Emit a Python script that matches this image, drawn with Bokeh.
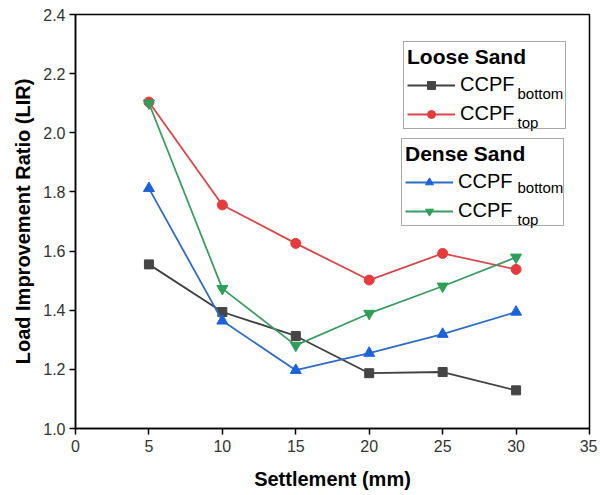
from bokeh.plotting import figure
from bokeh.models import Legend, LegendItem, Label, FixedTicker, PrintfTickFormatter, Range1d
from bokeh.embed import file_html
from bokeh.resources import INLINE

settlement = [5, 10, 15, 20, 25, 30]
loose_bottom = [1.555, 1.394, 1.313, 1.187, 1.191, 1.129]
loose_top = [2.104, 1.756, 1.626, 1.502, 1.592, 1.538]
dense_bottom = [1.812, 1.364, 1.197, 1.255, 1.319, 1.394]
dense_top = [2.100, 1.473, 1.281, 1.389, 1.481, 1.579]

x_ticks = [0, 5, 10, 15, 20, 25, 30, 35]
y_ticks = [1.0, 1.2, 1.4, 1.6, 1.8, 2.0, 2.2, 2.4]

FONT = "Liberation Sans"

p = figure(frame_width=514, frame_height=414, output_backend="svg", toolbar_location=None,
           x_range=Range1d(0, 35), y_range=Range1d(1.0, 2.4),
           min_border_left=75, min_border_top=14, min_border_right=8, min_border_bottom=62)
p.xgrid.visible = False
p.ygrid.visible = False
p.outline_line_color = "black"
p.outline_line_width = 1.5
p.outline_line_alpha = 1.0

for ax in (p.xaxis[0], p.yaxis[0]):
    ax.axis_line_color = "black"
    ax.axis_line_width = 1.5
    ax.major_tick_line_color = "black"
    ax.major_tick_line_width = 1.5
    ax.major_tick_out = 6
    ax.major_tick_in = 0
    ax.minor_tick_line_color = None
    ax.major_label_text_font = FONT
    ax.major_label_text_font_size = "16px"
    ax.major_label_text_color = "#333333"
    ax.axis_label_text_font = FONT
    ax.axis_label_text_font_size = "20px"
    ax.axis_label_text_font_style = "bold"
    ax.axis_label_text_color = "black"

p.xaxis.ticker = FixedTicker(ticks=x_ticks)
p.yaxis.ticker = FixedTicker(ticks=y_ticks)
p.yaxis.formatter = PrintfTickFormatter(format="%.1f")
p.xaxis.axis_label = "Settlement (mm)"
p.yaxis.axis_label = "Load Improvement Ratio (LIR)"
p.xaxis.axis_label_standoff = 13
p.yaxis.axis_label_standoff = 6
p.xaxis.major_label_standoff = 5
p.yaxis.major_label_standoff = 4

series = [
    (loose_bottom, "#404040", "#454545", "square", 9),
    (loose_top, "#d5474a", "#e63b3d", "circle", 10),
    (dense_bottom, "#2f6cbf", "#1c62d8", "triangle", 11),
    (dense_top, "#3f9a63", "#2e9e58", "inverted_triangle", 11),
]
renderers = []
for vals, lc, mc, marker, size in series:
    l = p.line(settlement, vals, line_color=lc, line_width=1.8)
    s = p.scatter(settlement, vals, marker=marker, size=size, fill_color=mc, line_color=mc)
    renderers.append((l, s))

def make_legend(title, items, loc):
    lg = Legend(items=items, location=loc, title=title,
                title_text_font=FONT, title_text_font_size="21px", title_text_font_style="bold",
                title_text_color="black", title_standoff=4,
                label_text_font=FONT, label_text_font_size="20px", label_text_color="black",
                glyph_width=48, glyph_height=20, label_height=20, label_width=102, label_standoff=5,
                spacing=6, padding=3, margin=0,
                border_line_color="#555555", border_line_width=1.2,
                background_fill_color="white", background_fill_alpha=0.0)
    return lg

leg1 = make_legend("Loose Sand", [LegendItem(label="CCPF", renderers=list(renderers[0])),
                                  LegendItem(label="CCPF", renderers=list(renderers[1]))], (328, 299))
leg2 = make_legend("Dense Sand", [LegendItem(label="CCPF", renderers=list(renderers[2])),
                                  LegendItem(label="CCPF", renderers=list(renderers[3]))], (326, 202))
p.add_layout(leg1, "center")
p.add_layout(leg2, "center")

subs = [("bottom", 442, 335), ("top", 442, 306), ("bottom", 442, 241), ("top", 442, 209)]
for txt, sx, sy in subs:
    p.add_layout(Label(x=sx, y=sy, x_units="screen", y_units="screen", text=txt,
                       text_font=FONT, text_font_size="15px", text_color="black",
                       text_baseline="alphabetic", level="overlay"))

open("out.html", "w").write(file_html(p, INLINE))
